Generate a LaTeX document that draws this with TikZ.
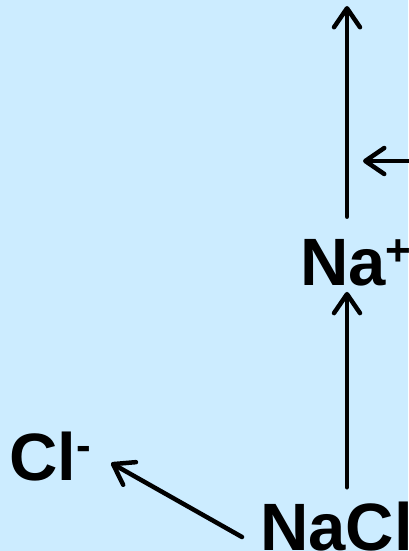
\documentclass[tikz,border=0pt]{standalone}
\usepackage{fontspec}
\setmainfont{Liberation Sans}
\usetikzlibrary{arrows.meta}
\definecolor{bgblue}{RGB}{204,236,255}
\newcommand\ionsup[1]{\raisebox{20pt}{\fontsize{44}{44}\selectfont #1}}
\begin{document}
\begin{tikzpicture}[x=1pt,y=-1pt,line join=round,line cap=round,
		arr/.style={line width=4.5pt,-{Straight Barb[length=19pt,width=26pt,round]}},
		ion/.style={inner sep=0pt,anchor=base west,font=\fontsize{67}{70}\selectfont\bfseries}]
	\fill[bgblue] (0,0) rectangle (408,551);
	\useasboundingbox (0,0) rectangle (408,551);
	\node[ion] (nacl) at (260,550) {NaCl};
	\node[ion] (naplus) at (300,285) {Na\ionsup{+}};
	\node[ion] (clminus) at (9,480) {Cl\ionsup{-}};
	\coordinate (axis) at (347,0);
	\coordinate (outflow) at (347,6);
	\coordinate (inflow) at (412,161);
	\coordinate (meet) at (363,161);
	\draw[arr,shorten <=14pt,shorten >=6pt] (nacl.north -| axis) -- (naplus.south -| axis);
	\draw[arr,shorten <=22pt] (naplus.north -| axis) -- (outflow);
	\draw[arr] (inflow) -- (meet);
	\draw[arr] ([xshift=-18pt,yshift=13pt]nacl.base west) -- ([xshift=20pt,yshift=17pt]clminus.base east);
\end{tikzpicture}
\end{document}
